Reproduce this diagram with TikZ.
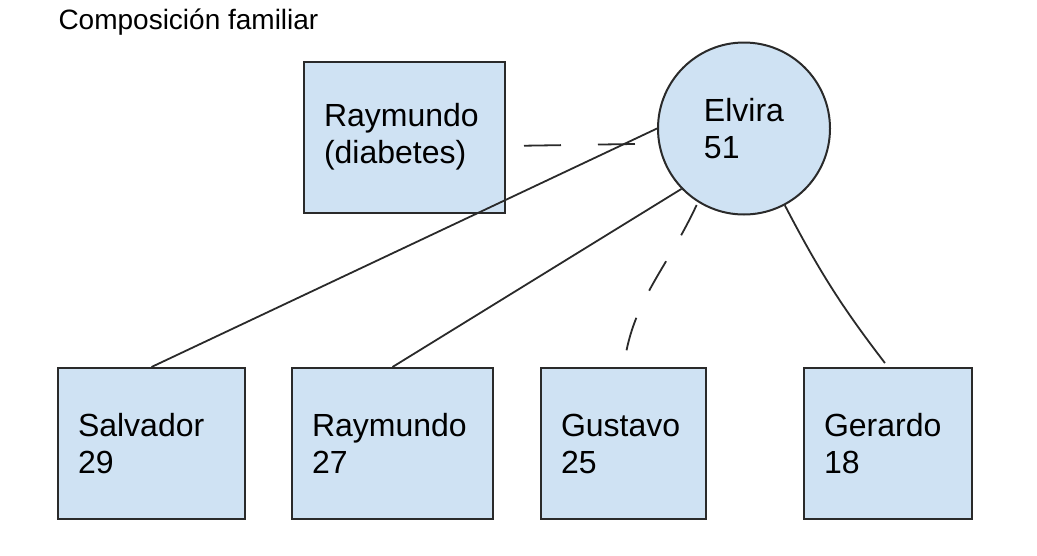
\documentclass[tikz,border=0pt]{standalone}
\usepackage{fontspec}
\setmainfont{Liberation Sans}
\usepackage{tikz}
\definecolor{boxblue}{HTML}{CFE2F3}
\definecolor{inkgray}{HTML}{2A2A2A}
\def\bigtext{\fontsize{32}{37}\selectfont}
\def\titletext{\fontsize{28}{34}\selectfont}
\tikzset{
    person/.style={draw=inkgray, line width=2pt, fill=boxblue, align=left,
        font=\bigtext, inner xsep=20pt, inner ysep=0pt, minimum height=151pt},
    mother/.style={person, circle, inner sep=0pt, minimum size=172pt},
    link/.style={draw=inkgray, line width=1.8pt},
    brokenlink/.style={link, dash pattern=on 37pt off 37pt}
}

\begin{document}
\begin{tikzpicture}[x=1pt, y=-1pt]
                \useasboundingbox (0,0) rectangle (1037,555);
                \node[anchor=base west, font=\titletext] (title) at (55,29) {Composición familiar};
                % parents
                \node[person, text width=161pt] (raydiab) at (404.5,137) {Raymundo\\(diabetes)};
                \node[mother] (elvira) at (744,128.5) {Elvira\\51};
                % children
                \node[person, text width=147pt] (salvador) at (151.5,443.5) {Salvador\\29};
                \node[person, text width=161pt] (raymundo) at (392.5,443.5) {Raymundo\\27};
                \node[person, text width=125pt] (gustavo) at (623.5,443.5) {Gustavo\\25};
                \node[person, text width=128pt] (gerardo) at (888,443.5) {Gerardo\\18};
                % links
                \draw[brokenlink, dash phase=56pt] ([yshift=-9pt]raydiab.east) -- (elvira.190);
                \draw[link] (salvador.north) -- (elvira.west);
                \draw[link] (raymundo.north) -- (elvira.224);
                \draw[brokenlink, dash pattern=on 34pt off 30pt, shorten <=3pt, shorten >=11pt]
                    (elvira.238) to[out=-115, in=80] (gustavo.north);
                \draw[link, shorten >=5pt] (elvira.-62) to[bend right=5] (gerardo.north);
            \end{tikzpicture}
\end{document}
